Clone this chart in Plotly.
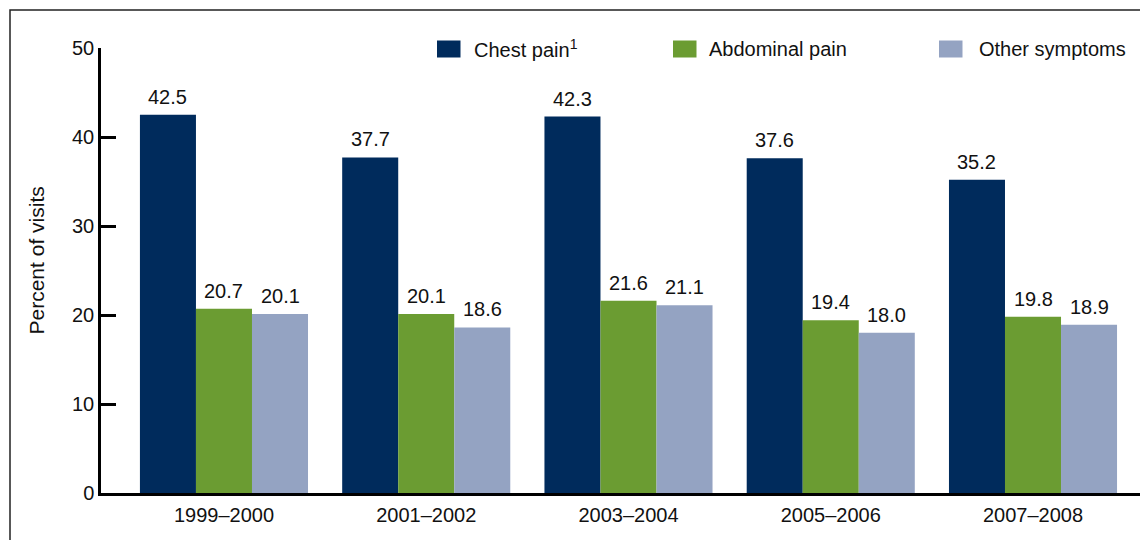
import plotly.graph_objects as go

categories = ["1999–2000", "2001–2002", "2003–2004", "2005–2006", "2007–2008"]
chest_pain = [42.5, 37.7, 42.3, 37.6, 35.2]
abdominal_pain = [20.7, 20.1, 21.6, 19.4, 19.8]
other_symptoms = [20.1, 18.6, 21.1, 18.0, 18.9]
series_names = ["Chest pain<sup>1</sup>", "Abdominal pain", "Other symptoms"]
series_values = [chest_pain, abdominal_pain, other_symptoms]
colors = ["#002B5C", "#6B9C32", "#94A3C2"]
y_ticks = [0, 10, 20, 30, 40, 50]

# page body has an 8px margin; figure sized to fit the 1148x540 window
OFF = 8
W, H = 1140, 532
ML = 101 - OFF
MT = 48 - OFF
MR = W - (1140 - OFF)
MB = H - (493 - OFF)
PW = W - ML - MR
PH = H - MT - MB
FONT = "Liberation Sans, Arial, sans-serif"


def px_x(px):
    return (px - OFF - ML) / PW


def px_y(py):
    return (H - MB - (py - OFF)) / PH


BARGAP = 0.169
bar_w = (1 - BARGAP) / 3

fig = go.Figure()
for name, vals, col in zip(series_names, series_values, colors):
    fig.add_trace(go.Bar(x=categories, y=vals, name=name, marker=dict(color=col, line=dict(width=0)),
                         showlegend=False))

annotations = []
for k, vals in enumerate(series_values):
    off = (k - 1) * bar_w
    for i, v in enumerate(vals):
        annotations.append(dict(x=i + off, y=v, xref="x", yref="y", text=f"{v:.1f}",
                                showarrow=False, yanchor="bottom", xanchor="center", yshift=5,
                                font=dict(family=FONT, size=20, color="#111")))

# legend (drawn manually)
legend_sq_x = [437, 673, 939]
legend_txt_x = [472, 707, 977]
shapes = []
for sx, tx, name, col in zip(legend_sq_x, legend_txt_x, series_names, colors):
    shapes.append(dict(type="rect", xref="paper", yref="paper",
                       x0=px_x(sx), x1=px_x(sx + 23.5), y0=px_y(57.5), y1=px_y(40.5),
                       fillcolor=col, line=dict(width=0)))
    annotations.append(dict(x=px_x(tx), y=px_y(49), xref="paper", yref="paper", text=name,
                            showarrow=False, xanchor="left", yanchor="middle",
                            font=dict(family=FONT, size=20, color="#111")))

# axis title
annotations.append(dict(x=px_x(35.5), y=px_y(261), xref="paper", yref="paper",
                        text="Percent of visits", textangle=-90, showarrow=False,
                        xanchor="center", yanchor="middle",
                        font=dict(family=FONT, size=21, color="#111")))

# outer frame (left and top edges visible)
shapes.append(dict(type="rect", xref="paper", yref="paper",
                   x0=px_x(10), x1=px_x(1148 + 20), y0=px_y(540 + 20), y1=px_y(10),
                   line=dict(color="#222", width=1.5), fillcolor="rgba(0,0,0,0)", layer="below"))

fig.update_layout(
    width=W, height=H,
    margin=dict(l=ML, r=MR, t=MT, b=MB),
    paper_bgcolor="white", plot_bgcolor="white",
    barmode="group", bargap=BARGAP, bargroupgap=0,
    font=dict(family=FONT, size=20, color="#111"),
    annotations=annotations, shapes=shapes,
    showlegend=False,
)
fig.update_xaxes(
    range=[-0.608, 4.529], showline=True, linecolor="black", linewidth=2.5,
    ticks="", showgrid=False, zeroline=False, ticklabelstandoff=2,
    tickfont=dict(family=FONT, size=20, color="#111"),
)
fig.update_yaxes(
    range=[0, 50], tickvals=y_ticks, showline=True, linecolor="black", linewidth=2.5,
    ticks="inside", ticklen=15, tickwidth=2.5, tickcolor="black",
    showgrid=False, zeroline=False,
    tickfont=dict(family=FONT, size=20, color="#111"),
)

fig.write_html("out.html")
